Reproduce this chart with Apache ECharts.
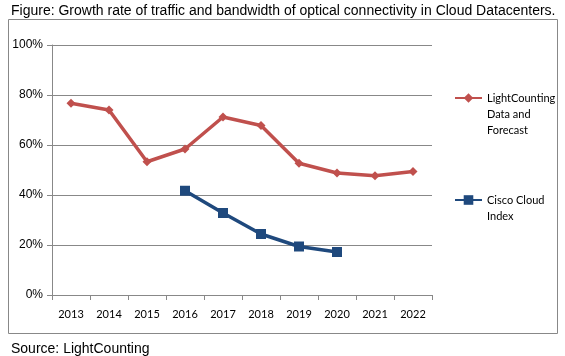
<!DOCTYPE html>
<html>
<head>
<meta charset="utf-8">
<script src="https://cdn.jsdelivr.net/npm/echarts@6/dist/echarts.min.js"></script>
<style>html,body{margin:0;padding:0;background:#fff}#c{width:565px;height:356px}</style>
</head>
<body>
<div id="c"></div>
<script>
var categories = ['2013','2014','2015','2016','2017','2018','2019','2020','2021','2022'];
var lightCounting = [76.7, 74.0, 53.3, 58.4, 71.2, 67.8, 52.7, 48.8, 47.7, 49.4];
var cisco = [null, null, null, 41.7, 32.8, 24.4, 19.4, 17.2, null, null];
var yTicks = [0, 20, 40, 60, 80, 100];
var titleText = 'Figure: Growth rate of traffic and bandwidth of optical connectivity in Cloud Datacenters.';
var sourceText = 'Source: LightCounting';
var name1 = 'LightCounting Data and Forecast';
var name2 = 'Cisco Cloud Index';

var chart = echarts.init(document.getElementById('c'));
chart.setOption({
  animation: false,
  title: [
    {text: titleText, left: 6, top: -1, textStyle: {fontFamily: 'Liberation Sans', fontSize: 14, fontWeight: 'normal', color: '#000'}},
    {text: sourceText, left: 6, top: 337, textStyle: {fontFamily: 'Liberation Sans', fontSize: 14, fontWeight: 'normal', color: '#000'}}
  ],
  graphic: [{type: 'rect', shape: {x: 8.5, y: 19.5, width: 549, height: 314}, style: {fill: 'none', stroke: '#888', lineWidth: 1}, z: -1}],
  grid: {left: 52, top: 45, width: 380, height: 250},
  legend: [
    {data: [name1], orient: 'vertical', left: 449, top: 53, itemWidth: 27, itemHeight: 12, itemGap: 2,
     formatter: function(){return '\n\nLightCounting\nData and\nForecast';},
     textStyle: {fontFamily: 'Lato', fontSize: 11, lineHeight: 16, color: '#000'}},
    {data: [name2], orient: 'vertical', left: 449, top: 171, itemWidth: 27, itemHeight: 12, itemGap: 2,
     formatter: function(){return '\nCisco Cloud\nIndex';},
     textStyle: {fontFamily: 'Lato', fontSize: 11, lineHeight: 16, color: '#000'}}
  ],
  xAxis: {
    type: 'category', data: categories, boundaryGap: true,
    axisLine: {lineStyle: {color: '#888', width: 1}},
    axisTick: {show: true, alignWithLabel: false, length: 5, lineStyle: {color: '#888'}},
    axisLabel: {fontFamily: 'Lato', fontSize: 11, color: '#000', margin: 14}
  },
  yAxis: {
    type: 'value', min: 0, max: 100, interval: 20,
    axisLine: {show: true, lineStyle: {color: '#888', width: 1}},
    axisTick: {show: true, length: 5, inside: false, lineStyle: {color: '#888'}},
    splitLine: {lineStyle: {color: '#888', width: 1}},
    axisLabel: {fontFamily: 'Liberation Sans', fontSize: 12, color: '#000', margin: 9,
      formatter: function(v){return yTicks.indexOf(v) >= 0 ? v + '%' : '';}}
  },
  series: [
    {name: name1, type: 'line', data: lightCounting, symbol: 'diamond', symbolSize: 9,
     lineStyle: {color: '#c0504d', width: 3.5}, itemStyle: {color: '#c0504d'}},
    {name: name2, type: 'line', data: cisco, symbol: 'rect', symbolSize: 10,
     lineStyle: {color: '#1f497d', width: 3.5}, itemStyle: {color: '#1f497d'}}
  ]
});
</script>
</body>
</html>
